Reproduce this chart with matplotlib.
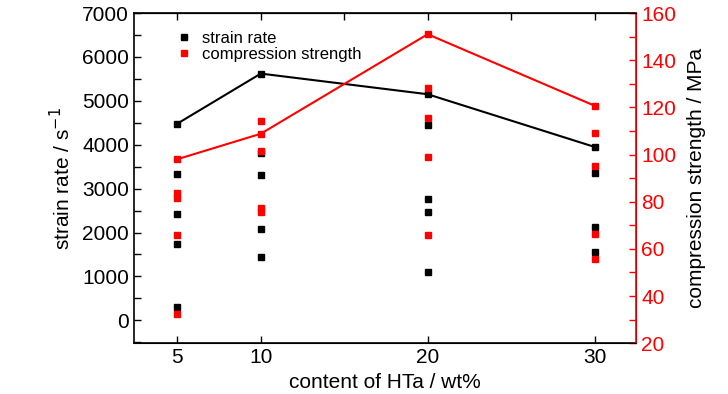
import matplotlib
matplotlib.use("Agg")
import matplotlib.pyplot as plt
from matplotlib.ticker import MultipleLocator

plt.rcParams["font.family"] = ["Liberation Sans Narrow", "Liberation Sans", "DejaVu Sans"]

# HTa content (wt%)
content = [5, 10, 20, 30]

# mean values joined by lines
strain_mean = [4480, 5620, 5150, 3950]
strength_mean = [98, 108.8, 151, 120.7]

# individual measurements
strain_x = [5, 5, 5, 5, 10, 10, 10, 10, 20, 20, 20, 20, 30, 30, 30]
strain_pts = [3340, 2425, 1746, 297,
              3810, 3300, 2090, 1450,
              4450, 2760, 2460, 1090,
              3350, 2135, 1560]
strength_x = [5, 5, 5, 5, 10, 10, 10, 10, 20, 20, 20, 20, 30, 30, 30, 30]
strength_pts = [83.5, 81.5, 66, 32.5,
                114.3, 101.4, 77.5, 75.5,
                128, 115.5, 99, 66,
                109, 95, 66.5, 55.5]

RED = "#ff0000"
FS = 15

fig = plt.figure(figsize=(7.28, 3.94), dpi=100)
ax = fig.add_axes([0.184, 0.129, 0.69, 0.838])
ax2 = ax.twinx()

ax.plot(content, strain_mean, "-", color="black", lw=1.5, zorder=3)
ax.plot(content, strain_mean, "s", color="black", ms=5, zorder=4)
ax.plot(strain_x, strain_pts, "s", color="black", ms=5, ls="none", zorder=4)

ax2.plot(content, strength_mean, "-", color=RED, lw=1.5, zorder=3)
ax2.plot(content, strength_mean, "s", color=RED, ms=5, zorder=4)
ax2.plot(strength_x, strength_pts, "s", color=RED, ms=5, ls="none", zorder=4)

ax.set_xlim(2.4, 32.5)
ax.set_ylim(-520, 7000)
ax2.set_ylim(20, 160)

ax.set_xticks([5, 10, 20, 30])
ax.yaxis.set_major_locator(MultipleLocator(1000))
ax.yaxis.set_minor_locator(MultipleLocator(500))
ax2.yaxis.set_major_locator(MultipleLocator(20))
ax2.yaxis.set_minor_locator(MultipleLocator(10))

ax.tick_params(axis="both", which="both", direction="in", labelsize=FS, top=False, right=False)
ax.tick_params(axis="both", which="major", length=5, width=1)
ax.tick_params(axis="y", which="minor", length=5, width=1)
ax2.tick_params(axis="y", which="both", direction="in", colors=RED, labelsize=FS, length=5, width=1)

top = ax.secondary_xaxis("top")
top.set_xticks([5, 10, 15, 20, 25, 30])
top.tick_params(direction="in", length=5, width=1, labeltop=False)

for s in ["left", "bottom", "top"]:
    ax.spines[s].set_linewidth(1.2)
ax2.spines["right"].set_color(RED)
ax2.spines["right"].set_linewidth(1.2)
ax2.spines["left"].set_visible(False)

ax.set_xlabel("content of HTa / wt%", fontsize=FS, labelpad=4)
ax.set_ylabel("strain rate / s$^{-1}$", fontsize=FS, labelpad=6)
ax2.set_ylabel("compression strength / MPa", fontsize=FS, labelpad=8)

h1, = ax.plot([], [], "s", color="black", ms=5)
h2, = ax.plot([], [], "s", color=RED, ms=5)
ax.legend([h1, h2], ["strain rate", "compression strength"], loc="upper left",
          bbox_to_anchor=(0.06, 0.98), frameon=False, fontsize=12,
          handlelength=1.0, handletextpad=0.6, labelspacing=0.05, borderpad=0.2)

fig.savefig("out.png", dpi=100)
